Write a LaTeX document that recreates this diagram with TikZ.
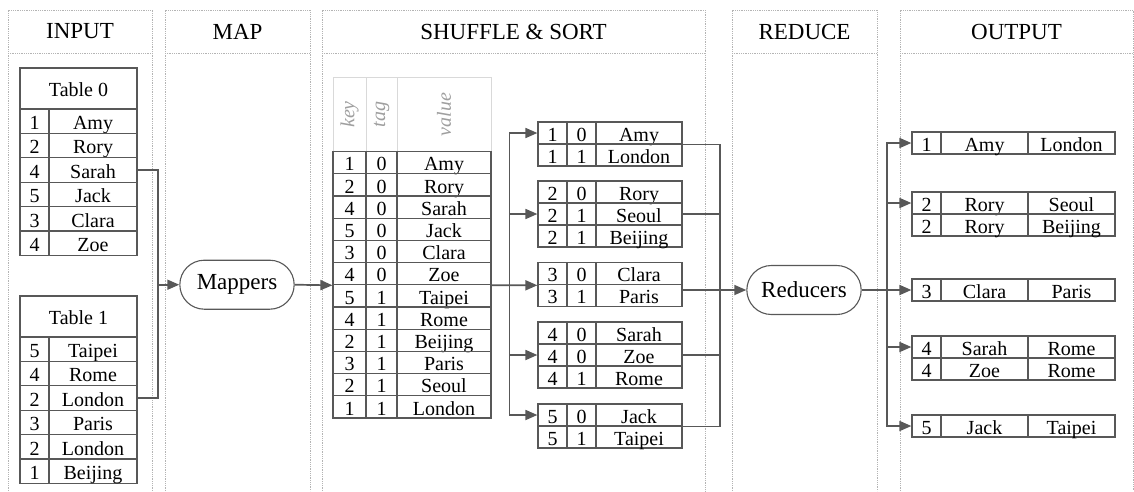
\documentclass[tikz,border=0pt]{standalone}
\usepackage{fontspec}
\setmainfont{Liberation Serif}
\usetikzlibrary{arrows.meta,shapes.misc}

\definecolor{linegray}{HTML}{585858}
\definecolor{framegray}{HTML}{B4B4B4}

\tikzset{
  colframe/.style={draw=framegray, densely dotted, line width=0.8pt},
  headtext/.style={font=\fontsize{23}{26}\selectfont},
  cell/.style={draw=linegray, line width=1.2pt, inner sep=0pt, minimum height=22pt,
    text height=18.5pt, text depth=2pt, font=\fontsize{20}{22}\selectfont},
  incell/.style={cell, minimum height=24.4pt},
  keyhead/.style={draw=gray!30, line width=0.8pt, inner sep=0pt, rotate=90,
    minimum width=74pt, text=gray!75, font=\fontsize{20}{22}\selectfont\itshape},
  worker/.style={draw=linegray, line width=1.1pt, rounded rectangle,
    minimum width=121pt, minimum height=49pt, font=\fontsize{23}{26}\selectfont},
  link/.style={draw=linegray, line width=1.7pt},
  flow/.style={link, -{Triangle[length=12pt,width=10pt]}}
}

\begin{document}
\begin{tikzpicture}[x=1pt, y=-1pt]
    \useasboundingbox (0,0) rectangle (1134,491);

    % columns
    \foreach \l/\r/\t [count=\i] in {8/152/INPUT, 165/310/MAP, 322/705/SHUFFLE \& SORT,
        732/877/REDUCE, 900/1133/OUTPUT} {
        \draw[colframe] (\l,491) -- (\l,10) -- (\r,10) -- (\r,491);
        \draw[colframe] (\l,53) -- (\r,53);
        \node[headtext] (head\i) at ({(\l+\r)/2},31.5) {\t};
    }

    % input tables
    \node[cell, minimum width=117pt, minimum height=41pt] (t0) at (78.5,88.5) {Table 0};
    \foreach \k/\v [count=\i] in {1/Amy, 2/Rory, 4/Sarah, 5/Jack, 3/Clara, 4/Zoe} {
        \node[incell, minimum width=29pt] (t0k\i) at (34.5,{96.8+24.4*\i}) {\k};
        \node[incell, minimum width=88pt] (t0v\i) at (93,{96.8+24.4*\i}) {\v};
    }
    \node[cell, minimum width=117pt, minimum height=41pt] (t1) at (78.5,316.5) {Table 1};
    \foreach \k/\v [count=\i] in {5/Taipei, 4/Rome, 2/London, 3/Paris, 2/London, 1/Beijing} {
        \node[incell, minimum width=29pt] (t1k\i) at (34.5,{324.8+24.4*\i}) {\k};
        \node[incell, minimum width=88pt] (t1v\i) at (93,{324.8+24.4*\i}) {\v};
    }

    % workers
    \node[worker] (mappers) at (237,284.7) {Mappers};
    \node[worker] (reducers) at (804,290) {Reducers};

    % intermediate table
    \node[keyhead, minimum height=33pt] (hkey) at (349.5,114.5) {key};
    \node[keyhead, minimum height=31pt] (htag) at (381.5,114.5) {tag};
    \node[keyhead, minimum height=94pt] (hval) at (444,114.5) {value};
    \foreach \k/\t/\v [count=\i] in {1/0/Amy, 2/0/Rory, 4/0/Sarah, 5/0/Jack, 3/0/Clara,
        4/0/Zoe, 5/1/Taipei, 4/1/Rome, 2/1/Beijing, 3/1/Paris, 2/1/Seoul, 1/1/London} {
        \node[cell, minimum height=22.2pt, minimum width=33pt] (bk\i) at (349.5,{140.4+22.2*\i}) {\k};
        \node[cell, minimum height=22.2pt, minimum width=31pt] (bt\i) at (381.5,{140.4+22.2*\i}) {\t};
        \node[cell, minimum height=22.2pt, minimum width=94pt] (bv\i) at (444,{140.4+22.2*\i}) {\v};
    }

    % sorted groups
    \foreach \g/\r/\top/\k/\t/\v in {g1/1/122/1/0/Amy, g1/2/122/1/1/London,
        g2/1/181/2/0/Rory, g2/2/181/2/1/Seoul, g2/3/181/2/1/Beijing,
        g3/1/262.7/3/0/Clara, g3/2/262.7/3/1/Paris,
        g4/1/322/4/0/Sarah, g4/2/322/4/0/Zoe, g4/3/322/4/1/Rome,
        g5/1/404/5/0/Jack, g5/2/404/5/1/Taipei} {
        \node[cell, minimum width=29pt] (\g-k\r) at (552.5,{\top+22*\r-11}) {\k};
        \node[cell, minimum width=29pt] (\g-t\r) at (581.5,{\top+22*\r-11}) {\t};
        \node[cell, minimum width=86pt] (\g-v\r) at (639,{\top+22*\r-11}) {\v};
    }

    % output tables
    \foreach \o/\r/\top/\k/\n/\c in {o1/1/132/1/Amy/London,
        o2/1/192/2/Rory/Seoul, o2/2/192/2/Rory/Beijing,
        o3/1/279/3/Clara/Paris,
        o4/1/336/4/Sarah/Rome, o4/2/336/4/Zoe/Rome,
        o5/1/415/5/Jack/Taipei} {
        \node[cell, minimum width=29pt] (\o-k\r) at (926.5,{\top+22*\r-11}) {\k};
        \node[cell, minimum width=87pt] (\o-n\r) at (984.5,{\top+22*\r-11}) {\n};
        \node[cell, minimum width=87pt] (\o-c\r) at (1071.5,{\top+22*\r-11}) {\c};
    }

    % input -> mappers
    \coordinate (inbus) at ([xshift=-21pt]mappers.west);
    \draw[link] (t0v3.east) -| (inbus);
    \draw[link] (t1v3.east) -| (inbus);
    \draw[flow] (inbus) -- (mappers.west);
    \draw[flow] (mappers.east) -- (bk6.south west);

    % shuffle
    \coordinate (sbus) at ([xshift=18pt]bv6.south east);
    \draw[flow] (bv6.south east) -- (g3-k1.south west);
    \draw[flow] (sbus) |- (g1-k1.west);
    \draw[flow] (sbus) |- (g2-k2.west);
    \draw[flow] (sbus) |- (g4-k2.west);
    \draw[flow] (sbus) |- (g5-k1.west);

    % groups -> reducers
    \coordinate (rbus) at ([xshift=-26pt]reducers.west);
    \draw[link] (g1-v1.south east) -| (rbus);
    \draw[link] (g2-v2.east) -| (rbus);
    \draw[link] (g4-v2.east) -| (rbus);
    \draw[link] (g5-v1.south east) -| (rbus);
    \draw[flow] (g3-v2.east |- reducers.west) -- (reducers.west);

    % reducers -> output
    \coordinate (obus) at ([xshift=25pt]reducers.east);
    \draw[flow] (reducers.east) -- (o3-k1.west);
    \draw[flow] (obus) |- (o1-k1.west);
    \draw[flow] (obus) |- (o2-k1.west);
    \draw[flow] (obus) |- (o4-k1.west);
    \draw[flow] (obus) |- (o5-k1.west);
\end{tikzpicture}
\end{document}
